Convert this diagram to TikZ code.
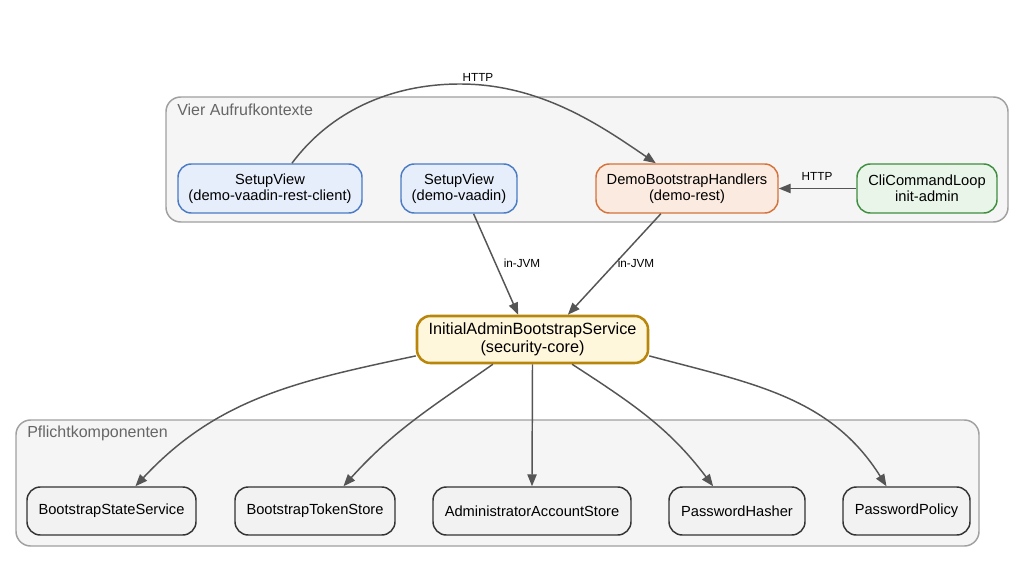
\documentclass[tikz,border=0pt]{standalone}
\usepackage{fontspec}
\setmainfont{Liberation Sans}
\usetikzlibrary{arrows.meta}
\definecolor{blueF}{HTML}{E6EEFB}
\definecolor{blueD}{HTML}{4A7BC4}
\definecolor{orangeF}{HTML}{FBEADF}
\definecolor{orangeD}{HTML}{D4733A}
\definecolor{greenF}{HTML}{E9F5E9}
\definecolor{greenD}{HTML}{3F8E3F}
\definecolor{coreF}{HTML}{FFF7DC}
\definecolor{coreD}{HTML}{B8860B}
\definecolor{grayF}{HTML}{F2F2F2}
\definecolor{grayD}{HTML}{333333}
\definecolor{clusterF}{HTML}{F5F5F5}
\definecolor{clusterD}{HTML}{A0A0A0}
\definecolor{edgeC}{HTML}{555555}
\definecolor{clabelC}{HTML}{666666}
\begin{document}
\begin{tikzpicture}[x=0.75pt,y=0.75pt,
  box/.style={draw, rounded corners=10pt, line width=1.1pt, align=center,
    font=\fontsize{11}{12.3}\selectfont, minimum height=49*0.75pt, inner sep=0pt},
  bluebox/.style={box, fill=blueF, draw=blueD},
  orangebox/.style={box, fill=orangeF, draw=orangeD},
  greenbox/.style={box, fill=greenF, draw=greenD},
  corebox/.style={box, fill=coreF, draw=coreD, line width=1.9pt, minimum height=47*0.75pt,
    font=\fontsize{12.2}{13.5}\selectfont},
  graybox/.style={box, fill=grayF, draw=grayD, minimum height=48*0.75pt},
  cluster/.style={draw=clusterD, fill=clusterF, rounded corners=11pt, line width=1.1pt, inner sep=0pt},
  clabel/.style={anchor=west, text=clabelC, font=\fontsize{12}{14}\selectfont, inner sep=0pt},
  edge/.style={draw=edgeC, line width=1.1pt, -{Triangle[length=9pt,width=7pt]}},
  elabel/.style={font=\fontsize{8.8}{10}\selectfont, text=black, inner sep=0pt}
]
\useasboundingbox (0,0) rectangle (1024,-563);
\fill[white] (0,0) rectangle (1024,-563);

% clusters
\node[cluster, minimum width=842*0.75pt, minimum height=125*0.75pt] (c1) at (587,-159.5) {};
\node[clabel] (c1l) at (177,-110) {Vier Aufrufkontexte};
\node[cluster, minimum width=963*0.75pt, minimum height=126*0.75pt] (c2) at (497.5,-483) {};
\node[clabel] (c2l) at (27,-433) {Pflichtkomponenten};

% top nodes
\node[bluebox, minimum width=184*0.75pt] (sv1) at (270,-188.5) {SetupView\\(demo-vaadin-rest-client)};
\node[bluebox, minimum width=116*0.75pt] (sv2) at (459,-188.5) {SetupView\\(demo-vaadin)};
\node[orangebox, minimum width=182*0.75pt] (dbh) at (687,-188.5) {DemoBootstrapHandlers\\(demo-rest)};
\node[greenbox, minimum width=140*0.75pt] (cli) at (927,-188.5) {CliCommandLoop\\init-admin};

% core
\node[corebox, minimum width=231*0.75pt] (core) at (532.5,-339.5) {InitialAdminBootstrapService\\(security-core)};

% bottom nodes
\node[graybox, minimum width=169*0.75pt] (bss) at (111.5,-511) {BootstrapStateService};
\node[graybox, minimum width=160*0.75pt] (bts) at (315,-511) {BootstrapTokenStore};
\node[graybox, minimum width=198*0.75pt] (aas) at (532,-511) {AdministratorAccountStore};
\node[graybox, minimum width=136*0.75pt] (ph) at (737,-511) {PasswordHasher};
\node[graybox, minimum width=127*0.75pt] (pp) at (906.5,-511) {PasswordPolicy};

% edges top
\coordinate (httpmid) at (460,-84);
\draw[edge] (sv1.49) .. controls (330,-112) and (390,-84) .. (httpmid)
  .. controls (540,-84) and (600,-125) .. (dbh.141);
\node[elabel] (l1) at (478,-77) {HTTP};
\draw[edge] (cli.west) -- (dbh.east);
\node[elabel] (l2) at (817,-176) {HTTP};
\draw[edge] (sv2.-60) -- (core.120);
\node[elabel] (l3) at (522,-263) {in-JVM};
\draw[edge] (dbh.-136) -- (core.35);
\node[elabel] (l4) at (636,-263) {in-JVM};

% edges bottom
\draw[edge] (core.188) to[out=192, in=47] (bss.46);
\draw[edge] (core.212) to[out=215, in=48] (bts.41);
\draw[edge] (core.south) -- (aas.north);
\draw[edge] (core.328) to[out=-33, in=127] (ph.134);
\draw[edge] (core.352) to[out=-15, in=122] (pp.129);
\end{tikzpicture}
\end{document}
